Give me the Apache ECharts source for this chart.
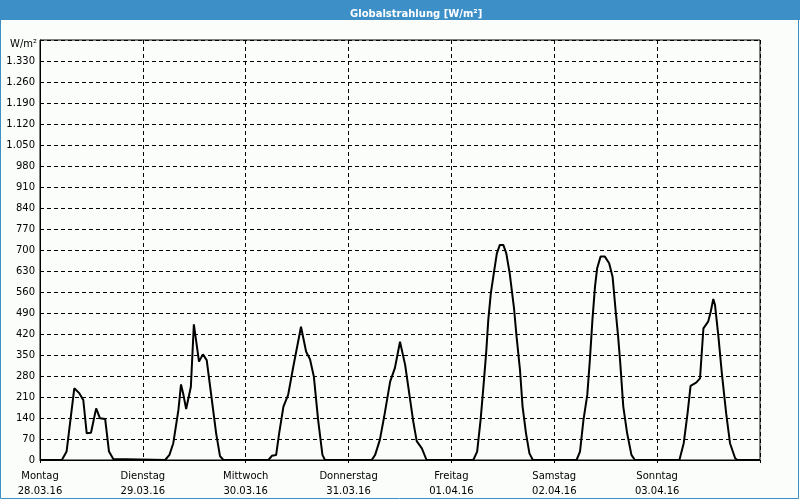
<!DOCTYPE html>
<html><head><meta charset="utf-8">
<script src="https://cdn.jsdelivr.net/npm/echarts@6/dist/echarts.min.js"></script>
<style>html,body{margin:0;padding:0;background:#fbfdfb}#c{width:800px;height:500px}</style>
</head><body><div id="c"></div>
<script>
const titleText = 'Globalstrahlung [W/m²]';
const unitLabel = 'W/m²';
const dayNames = ['Montag','Dienstag','Mittwoch','Donnerstag','Freitag','Samstag','Sonntag'];
const dayDates = ['28.03.16','29.03.16','30.03.16','31.03.16','01.04.16','02.04.16','03.04.16'];
const hours = [0,5.1,6.2,8.0,9.2,10.1,10.9,11.9,13.1,14.0,15.2,16.1,17.1,17.5,
  29.2,30.2,31.1,32.3,32.9,33.4,34.1,35.2,35.9,36.3,37.1,38.0,38.9,40.1,41.1,42.0,42.8,
  53.3,54.1,55.1,55.8,56.8,57.9,59.1,60.9,62.1,63.0,63.9,64.9,65.9,66.5,
  77.4,78.2,79.3,80.3,81.7,82.8,84.0,85.2,86.2,87.1,87.9,89.1,90.2,
  101.1,102.0,102.8,103.4,104.1,104.6,105.2,106.0,106.6,107.3,108.1,108.8,109.6,110.6,111.2,112.0,112.6,113.4,114.2,115.0,
  125.2,126.0,126.8,127.7,128.3,128.9,129.5,130.0,130.8,131.8,132.8,133.6,134.3,134.9,135.4,136.1,137.0,138.0,138.8,
  149.2,150.2,151.1,151.8,153.1,154.0,154.8,155.9,156.5,157.1,157.5,158.3,159.1,160.1,161.0,162.2,162.7,168];
const radiation = [0,0,28,239,222,200,89,91,172,139,137,28,3,0,
  0,17,56,167,252,222,170,244,452,411,328,352,333,200,89,13,0,
  0,14,17,89,178,217,311,444,361,336,278,133,17,0,
  0,17,67,144,261,306,394,317,217,128,63,39,0,
  0,28,133,233,356,467,556,633,689,717,717,689,622,506,411,300,178,89,22,0,
  0,28,133,217,333,467,578,639,678,678,656,611,500,411,322,178,89,17,0,
  0,56,156,247,258,272,439,461,494,537,517,411,289,156,56,6,0,0];

const fnt = 'DejaVu Sans';
const chart = echarts.init(document.getElementById('c'), null, {renderer:'canvas'});
function fmtY(v){ if(v>=1400) return ''; if(v>=1000){return Math.floor(v/1000)+'.'+String(v%1000).padStart(3,'0');} return String(v); }
chart.setOption({
  backgroundColor:'#fbfdfb',
  animation:false,
  title:{text:titleText,left:345,top:4,textStyle:{color:'#fff',fontFamily:fnt,fontSize:10,fontWeight:'bold'}},
  graphic:[
    {type:'rect',shape:{x:0,y:0,width:800,height:20},style:{fill:'#3d8fc8'},z:-1},
    {type:'rect',shape:{x:0.5,y:0.5,width:798,height:498},style:{fill:null,stroke:'#3d8fc8',lineWidth:1},z:-1},
    {type:'rect',shape:{x:40,y:40,width:720,height:420},style:{fill:null,stroke:'#000',lineWidth:1},z:10},
    {type:'text',left:10,top:39,style:{text:unitLabel,font:'10px "DejaVu Sans"',fill:'#000'}}
  ],
  grid:{left:40,right:40,top:40,bottom:40},
  xAxis:{type:'value',min:0,max:168,interval:24,
    axisLine:{show:true,lineStyle:{color:'#000'}},
    axisTick:{show:true,length:3,lineStyle:{color:'#000'}},
    splitLine:{show:true,lineStyle:{color:'#000',type:[4,3],width:1}},
    axisLabel:{color:'#000',fontFamily:fnt,fontSize:10,lineHeight:15,margin:9,
      formatter:function(v){const i=Math.round(v/24); if(i>=7) return ''; return dayNames[i]+'\n'+dayDates[i];}}
  },
  yAxis:{type:'value',min:0,max:1400,interval:70,
    axisLine:{show:true,lineStyle:{color:'#000'}},
    axisTick:{show:false},
    splitLine:{show:true,lineStyle:{color:'#000',type:[4,3],width:1}},
    axisLabel:{color:'#000',fontFamily:fnt,fontSize:10,margin:5,formatter:fmtY}
  },
  series:[{type:'line',data:hours.map((h,i)=>[h,radiation[i]]),showSymbol:false,
    lineStyle:{color:'#000',width:2},itemStyle:{color:'#000'}}]
});
</script></body></html>
